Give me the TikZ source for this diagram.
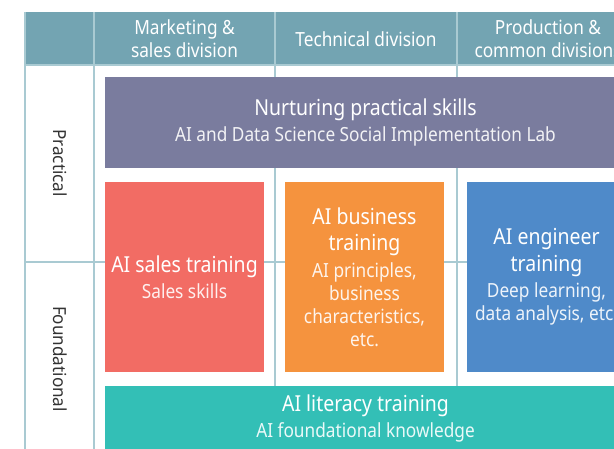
\documentclass[tikz,border=0pt]{standalone}
\usepackage{fontspec}
\setmainfont[FakeStretch=0.885]{Noto Sans}
\newfontfamily\rowfont[FakeStretch=0.95]{Noto Sans}
\definecolor{headfill}{HTML}{73A4B2}
\definecolor{gridcol}{HTML}{A9CAD2}
\definecolor{labfill}{HTML}{7A7C9E}
\definecolor{salesfill}{HTML}{F26C64}
\definecolor{busfill}{HTML}{F5933E}
\definecolor{engfill}{HTML}{4F8AC9}
\definecolor{litfill}{HTML}{33BFB6}
\definecolor{rowtext}{HTML}{333333}
\newcommand{\subf}{\fontsize{19.5}{23}\selectfont}
\begin{document}
\begin{tikzpicture}[x=1pt,y=-1pt,
  gridline/.style={draw=gridcol, line width=1.4pt},
  boxnode/.style={rectangle, inner sep=0pt, align=center, text=white, font=\fontsize{22}{26.5}\selectfont},
  headtext/.style={align=center, text=white, font=\fontsize{19.5}{22.5}\selectfont},
  rowlabel/.style={rotate=-90, text=rowtext, font=\rowfont\fontsize{18}{20}\selectfont}]
\useasboundingbox (0,0) rectangle (614,448);
\clip (0,0) rectangle (614,448);
% header band
\fill[headfill] (25,12) rectangle (650,65);
% grid
\coordinate (g0t) at (25,12);   \coordinate (g0b) at (25,460);
\coordinate (g1t) at (94,12);   \coordinate (g1b) at (94,460);
\coordinate (g2t) at (275,12);  \coordinate (g2b) at (275,460);
\coordinate (g3t) at (457,12);  \coordinate (g3b) at (457,460);
\coordinate (hl) at (25,262);   \coordinate (hr) at (650,262);
\coordinate (tl) at (25,65);    \coordinate (tr) at (650,65);
\draw[gridline] (g0t) -- (g0b);
\draw[gridline] (g1t) -- (g1b);
\draw[gridline] (g2t) -- (g2b);
\draw[gridline] (g3t) -- (g3b);
\draw[gridline] (hl) -- (hr);
\draw[gridline] (tl) -- (tr);
% header texts
\node[headtext] (h1) at (184.5,38.5) {Marketing \&\\sales division};
\node[headtext] (h2) at (366,39) {Technical division};
\node[headtext] (h3) at (548,38.5) {Production \&\\common divisions};
% row labels
\node[rowlabel] (r1) at (60,163) {Practical};
\node[rowlabel] (r2) at (60,359) {Foundational};
% boxes
\node[boxnode, fill=labfill, minimum width=521pt, minimum height=91pt] (lab) at (365.5,122.5)
  {Nurturing practical skills\\{\subf\color{white!90!labfill}AI and Data Science Social Implementation Lab}};
\node[boxnode, fill=salesfill, minimum width=159pt, minimum height=190pt] (sales) at (184.5,277)
  {AI sales training\\{\subf\color{white!90!salesfill}Sales skills}};
\node[boxnode, fill=busfill, minimum width=159pt, minimum height=190pt] (bus) at (364.5,277)
  {AI business\\training\\{\subf\color{white!90!busfill}AI principles,}\\[-3.5pt]{\subf\color{white!90!busfill}business}\\[-3.5pt]{\subf\color{white!90!busfill}characteristics,}\\[-3.5pt]{\subf\color{white!90!busfill}etc.}};
\node[boxnode, fill=engfill, minimum width=159pt, minimum height=190pt] (eng) at (546.5,277)
  {AI engineer\\training\\{\subf\color{white!90!engfill}Deep learning,}\\[-3.5pt]{\subf\color{white!90!engfill}data analysis, etc.}};
\node[boxnode, fill=litfill, minimum width=521pt, minimum height=65pt] (lit) at (365.5,418.5)
  {AI literacy training\\{\subf\color{white!90!litfill}AI foundational knowledge}};
\end{tikzpicture}
\end{document}
